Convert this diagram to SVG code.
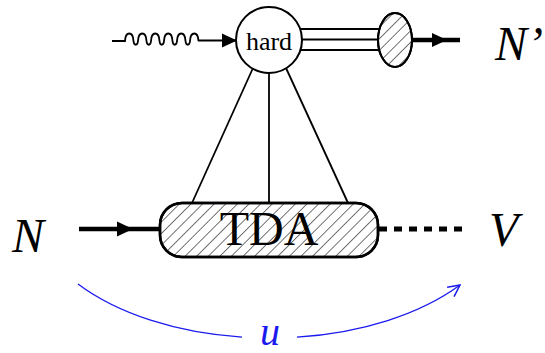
<svg xmlns="http://www.w3.org/2000/svg" width="545" height="353" viewBox="0 0 545 353">
<style>
.ln{stroke:#000;fill:none;stroke-width:1.8}
.thick{stroke:#000;fill:none;stroke-width:4.5}
.lbl{font-family:"Liberation Serif",serif;font-style:italic;font-size:48px;fill:#000}
</style>
<defs>
<pattern id="hatch" width="8.2" height="8.2" patternUnits="userSpaceOnUse" patternTransform="rotate(45)">
<line x1="0" y1="0" x2="0" y2="8.2" stroke="#000" stroke-width="1.1"/>
</pattern>
<marker id="open" viewBox="0 0 12 12" refX="11" refY="6" markerWidth="14" markerHeight="14" markerUnits="userSpaceOnUse" orient="auto">
<path d="M1,1 L11,6 L1,11" fill="none" stroke="#1a1aee" stroke-width="1.3"/>
</marker>
</defs>
<rect width="545" height="353" fill="#fff"/>
<g id="connectors">
<path class="ln" d="M112,41 L125,41 c0.5,-10 8,-10 8.5,0 c0.5,5 4,5 4.5,0 c0.5,-10 8,-10 8.5,0 c0.5,5 4,5 4.5,0 c0.5,-10 8,-10 8.5,0 c0.5,5 4,5 4.5,0 c0.5,-10 8,-10 8.5,0 c0.5,5 4,5 4.5,0 c0.5,-10 8,-10 8.5,0 c0.5,5 4,5 4.5,0 c0.5,-10 8,-10 8.5,0" stroke-width="1.6"/>
<line class="ln" x1="198" y1="40.5" x2="236" y2="40.5"/>
<path d="M222,33.5 L237,40.5 L222,47.5 z" fill="#000"/>
<line class="ln" x1="300" y1="29" x2="382" y2="29"/>
<line class="ln" x1="302" y1="39.5" x2="380" y2="39.5"/>
<line class="ln" x1="300" y1="50" x2="382" y2="50"/>
<line class="thick" x1="412" y1="40" x2="460" y2="40"/>
<path d="M432,33 L447,40 L432,47 z" fill="#000"/>
<line class="ln" x1="253" y1="68" x2="192" y2="203"/>
<line class="ln" x1="269" y1="73" x2="269" y2="203"/>
<line class="ln" x1="286" y1="68" x2="348" y2="203"/>
<line class="thick" x1="79" y1="229" x2="160" y2="229"/>
<path d="M117,221.5 L133,229 L117,236.5 z" fill="#000"/>
<line x1="379" y1="229" x2="462" y2="229" stroke="#000" stroke-width="5" stroke-dasharray="8,7"/>
<path d="M78,284 A240,138 0 0 0 242,337.1" fill="none" stroke="#1a1aee" stroke-width="1.3"/>
<path d="M297,337.1 A240,138 0 0 0 460,285" fill="none" stroke="#1a1aee" stroke-width="1.3" marker-end="url(#open)"/>
</g>
<g id="hard">
<circle cx="269" cy="40" r="33" fill="#fff" stroke="#000" stroke-width="2"/>
<text x="269" y="50" text-anchor="middle" font-family="Liberation Serif,serif" font-size="26">hard</text>
</g>
<g id="blob">
<ellipse cx="395" cy="40" rx="17" ry="27" fill="#fff" stroke="#000" stroke-width="2"/>
<ellipse cx="395" cy="40" rx="17" ry="27" fill="url(#hatch)" stroke="#000" stroke-width="2"/>
</g>
<g id="tda">
<rect x="160" y="203" width="218" height="54" rx="22" fill="#fff" stroke="#000" stroke-width="2.5"/>
<rect x="160" y="203" width="218" height="54" rx="22" fill="url(#hatch)" stroke="#000" stroke-width="2.5"/>
<text x="269" y="245" text-anchor="middle" font-family="Liberation Serif,serif" font-size="48">TDA</text>
</g>
<g id="labels">
<text class="lbl" x="12" y="252">N</text>
<text class="lbl" x="495" y="60">N’</text>
<text class="lbl" x="489" y="246">V</text>
<text x="270" y="345" text-anchor="middle" font-family="Liberation Serif,serif" font-style="italic" font-size="40" fill="#1a1aee">u</text>
</g>
</svg>
